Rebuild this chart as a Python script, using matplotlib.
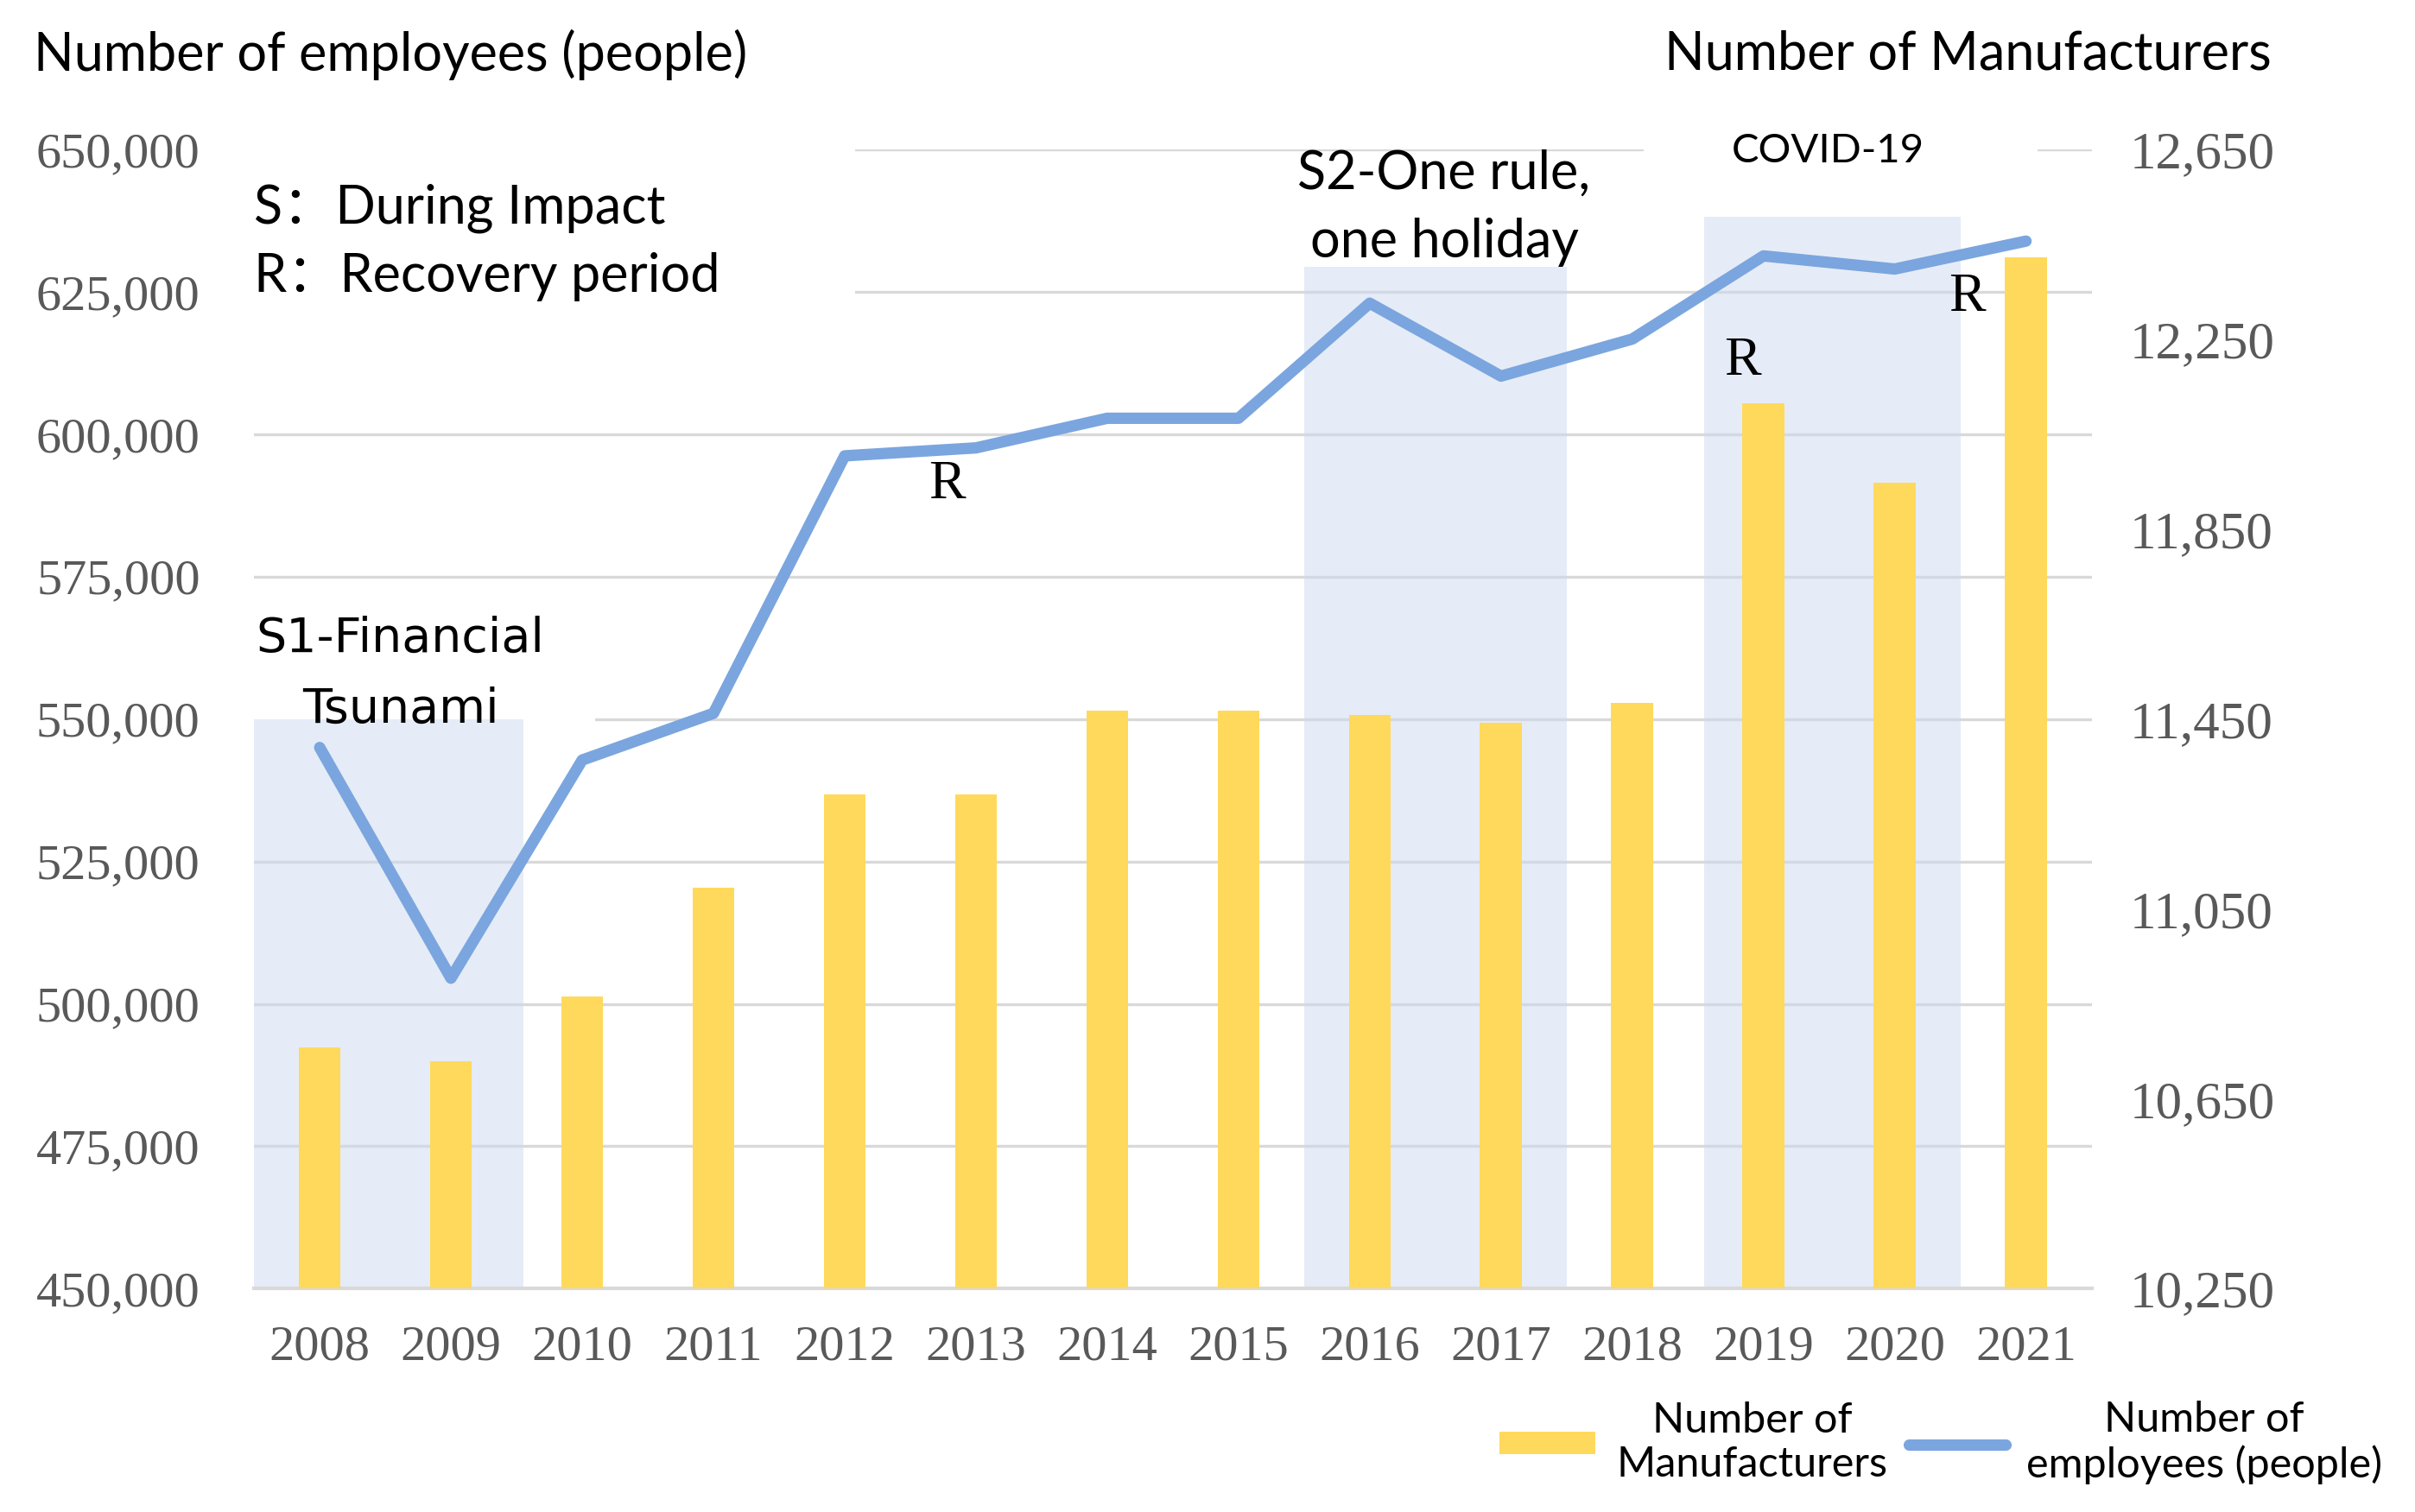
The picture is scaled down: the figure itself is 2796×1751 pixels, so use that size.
import matplotlib.pyplot as plt
from matplotlib.patches import Rectangle
from matplotlib.ticker import FuncFormatter

years = [str(y) for y in range(2008, 2022)]
employees = [545000, 504500, 542800, 551000, 596200, 597600, 602800,
             602800, 623000, 610200, 616700, 631300, 629000, 633900]
manufacturers = [10758, 10730, 10865, 11095, 11292, 11292, 11468,
                 11468, 11458, 11442, 11484, 12116, 11948, 12423]
left_ticks = list(range(450000, 650001, 25000))
right_ticks = list(range(10250, 12651, 400))

# shaded periods: (start, end, top on left axis)
periods = [(-0.5, 1.55, 550000), (7.5, 9.5, 629400), (10.55, 12.5, 638200)]

sans = ['Lato', 'Noto Sans CJK SC', 'DejaVu Sans']
serif = 'Liberation Serif'
bar_color = '#FFD95C'
line_color = '#7BA5DE'
grid_color = '#D9D9D9'

fig = plt.figure(figsize=(27.96, 17.51), dpi=100)
ax = fig.add_axes([0.1052, 0.1477, 0.7609, 0.7535])
ax2 = ax.twinx()
x = list(range(len(years)))

ax.set_xlim(-0.5, 13.5)
ax.set_ylim(450000, 650000)
ax2.set_ylim(10250, 12650)

# gridlines
ax.set_yticks(left_ticks)
ax.set_axisbelow(True)
ax.yaxis.grid(True, color=grid_color, lw=2.4)
ax.xaxis.grid(False)

# white boxes behind texts (hide gridlines)
ax.add_patch(Rectangle((-0.5, 621500), 4.58, 31000, facecolor='white',
                       edgecolor='none', zorder=1, clip_on=False))
ax.add_patch(Rectangle((-0.5, 548600), 2.6, 22000, facecolor='white',
                       edgecolor='none', zorder=1))
ax.add_patch(Rectangle((10.09, 645500), 3.0, 9500, facecolor='white',
                       edgecolor='none', zorder=1, clip_on=False))

for s, e, top in periods:
    ax.add_patch(Rectangle((s, 450000), e - s, top - 450000,
                           facecolor='#CCDAF0', alpha=0.5, edgecolor='none', zorder=1.2))

line, = ax.plot(x, employees, color=line_color, lw=9.5, zorder=4,
                solid_capstyle='round', solid_joinstyle='round')
bars = ax2.bar(x, manufacturers, width=0.32, color=bar_color, zorder=3)

for a in (ax, ax2):
    for sp in a.spines.values():
        sp.set_visible(False)
ax.spines['bottom'].set_visible(True)
ax.spines['bottom'].set_color(grid_color)
ax.spines['bottom'].set_linewidth(3)

ax.set_xticks(x)
ax.set_xticklabels(years)
ax.yaxis.set_major_formatter(FuncFormatter(lambda v, p: f'{int(v):,}'))
ax2.set_yticks(right_ticks)
ax2.yaxis.set_major_formatter(FuncFormatter(lambda v, p: f'{int(v):,}'))

ax.tick_params(axis='both', length=0, labelsize=42, labelcolor='#595959')
ax.tick_params(axis='y', pad=45)
ax.tick_params(axis='x', pad=30)
ax2.tick_params(axis='y', length=0, pad=32, labelsize=44, labelcolor='#595959')
for lab in ax.get_xticklabels() + ax.get_yticklabels() + ax2.get_yticklabels():
    lab.set_fontfamily(serif)

# titles
fig.text(0.014, 0.964, 'Number of employees (people)', ha='left', va='center',
         fontsize=44, family=sans)
fig.text(0.9407, 0.964, 'Number of Manufacturers', ha='right', va='center',
         fontsize=44, family=sans)

# annotations
fig.text(0.1052, 0.8625, 'S：During Impact', ha='left', va='center', fontsize=44, family=sans)
fig.text(0.1052, 0.8167, 'R：Recovery period', ha='left', va='center', fontsize=44, family=sans)
fig.text(0.1658, 0.5774, 'S1-Financial', ha='center', va='center', fontsize=40,
         family=['DejaVu Sans'])
fig.text(0.1658, 0.5305, 'Tsunami', ha='center', va='center', fontsize=40,
         family=['DejaVu Sans'])
fig.text(0.598, 0.885, 'S2-One rule,', ha='center', va='center', fontsize=44, family=sans)
fig.text(0.598, 0.840, 'one holiday', ha='center', va='center', fontsize=44, family=sans)
fig.text(0.757, 0.900, 'COVID-19', ha='center', va='center', fontsize=34, family=sans)

for rx, ry in [(4.78, 591100), (10.84, 612700), (12.55, 624000)]:
    ax.text(rx, ry, 'R', ha='center', va='center', fontsize=46, family=serif, zorder=6)

leg = fig.legend([bars, line], ['Number of\nManufacturers', 'Number of\nemployees (people)'],
                 loc='center', bbox_to_anchor=(0.8036, 0.046), ncol=2, frameon=False,
                 prop={'family': sans, 'size': 35}, handlelength=2.3, handleheight=0.45,
                 handletextpad=0.5, columnspacing=0.5)
for t in leg.get_texts():
    t.set_multialignment('center')

fig.savefig('out.png', dpi=100)
